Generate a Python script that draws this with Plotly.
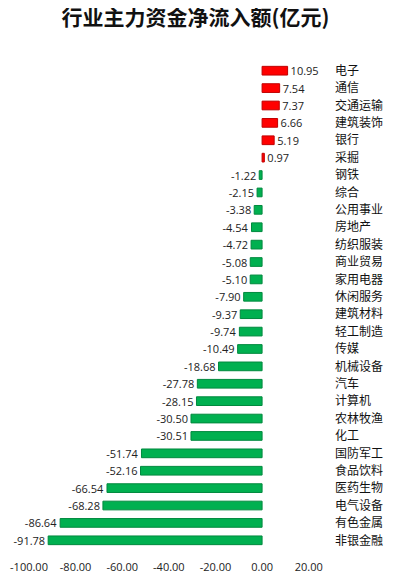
import plotly.graph_objects as go

categories = ["电子", "通信", "交通运输", "建筑装饰", "银行", "采掘", "钢铁", "综合",
              "公用事业", "房地产", "纺织服装", "商业贸易", "家用电器", "休闲服务",
              "建筑材料", "轻工制造", "传媒", "机械设备", "汽车", "计算机", "农林牧渔",
              "化工", "国防军工", "食品饮料", "医药生物", "电气设备", "有色金属", "非银金融"]
values = [10.95, 7.54, 7.37, 6.66, 5.19, 0.97, -1.22, -2.15, -3.38, -4.54, -4.72,
          -5.08, -5.10, -7.90, -9.37, -9.74, -10.49, -18.68, -27.78, -28.15, -30.50,
          -30.51, -51.74, -52.16, -66.54, -68.28, -86.64, -91.78]
x_ticks = [-100, -80, -60, -40, -20, 0, 20]
title = "行业主力资金净流入额(亿元)"

colors = ["#FF0000" if v > 0 else "#00B050" for v in values]
edge = ["#C00000" if v > 0 else "#00893E" for v in values]

fig = go.Figure()
fig.add_trace(go.Bar(
    y=categories, x=values, orientation="h",
    marker=dict(color=colors, line=dict(color=edge, width=1)),
    text=[f"{v:.2f}" for v in values], textposition="outside",
    constraintext="none",
    textfont=dict(family="Open Sans, Noto Sans CJK SC", size=11, color="#222222"),
    cliponaxis=False, width=0.5,
))

# page body has an 8px margin, so figure is 385x577 and offsets are shifted
fig.update_layout(
    width=385, height=577,
    margin=dict(l=21, r=61, t=54, b=36, autoexpand=False),
    paper_bgcolor="white", plot_bgcolor="white",
    showlegend=False,
    title=dict(text="<b>" + title + "</b>", x=0.487, xanchor="center",
               y=1, yanchor="top", pad=dict(t=2),
               font=dict(family="Noto Sans CJK SC", size=21, color="#111111")),
    xaxis=dict(range=[-100, 30], tickvals=x_ticks, ticktext=[f"{t:.2f}" for t in x_ticks],
               showgrid=False, zeroline=False, showline=False, automargin=False,
               ticklabelstandoff=10,
               tickfont=dict(family="Open Sans, Noto Sans CJK SC", size=11, color="#222222")),
    yaxis=dict(categoryorder="array", categoryarray=categories[::-1], side="right",
               showgrid=False, zeroline=False, showline=False, ticklabelstandoff=2,
               automargin=False,
               tickfont=dict(family="Noto Sans CJK SC", size=12, color="#111111")),
)

fig.write_html("out.html")
